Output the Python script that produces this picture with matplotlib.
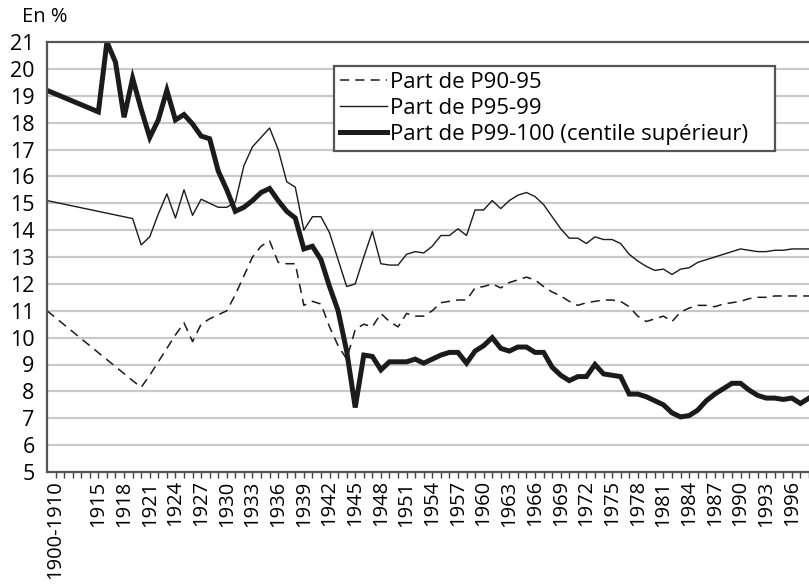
import numpy as np
import matplotlib
matplotlib.use('Agg')
import matplotlib.pyplot as plt

plt.rcParams['font.family'] = ['Open Sans', 'DejaVu Sans']

# x categories: first point is the 1900-1910 average, then yearly from 1915
years = [1909] + list(range(1915, 1999))

# P99-100 (centile superieur)
p99_100 = [19.2,
           18.4, 21.0, 20.25, 18.2, 19.65, 18.5, 17.45, 18.1, 19.2, 18.1,
           18.3, 17.95, 17.5, 17.4, 16.2, 15.5, 14.7, 14.85, 15.1, 15.4,
           15.55, 15.1, 14.7, 14.45, 13.3, 13.4, 12.9, 11.9, 11.0, 9.5,
           7.4, 9.35, 9.3, 8.8, 9.1, 9.1, 9.1, 9.2, 9.05, 9.2,
           9.35, 9.45, 9.45, 9.05, 9.5, 9.7, 10.0, 9.6, 9.5, 9.65,
           9.65, 9.45, 9.45, 8.9, 8.6, 8.4, 8.55, 8.55, 9.0, 8.65,
           8.6, 8.55, 7.9, 7.9, 7.8, 7.65, 7.5, 7.2, 7.05, 7.1,
           7.3, 7.65, 7.9, 8.1, 8.3, 8.3, 8.05, 7.85, 7.75, 7.75,
           7.7, 7.75, 7.55, 7.75]

# P95-99 (no values 1915-1918)
p95_99 = [15.1,
          None, None, None, None, 14.43, 13.45, 13.75, 14.6, 15.35, 14.45,
          15.5, 14.55, 15.15, 15.0, 14.85, 14.85, 15.05, 16.4, 17.1, 17.45,
          17.8, 17.0, 15.8, 15.6, 14.0, 14.5, 14.5, 13.9, 12.9, 11.9,
          12.0, 13.0, 13.95, 12.75, 12.7, 12.7, 13.1, 13.2, 13.15, 13.4,
          13.8, 13.8, 14.05, 13.8, 14.75, 14.75, 15.1, 14.8, 15.1, 15.3,
          15.4, 15.25, 14.95, 14.5, 14.05, 13.7, 13.7, 13.5, 13.75, 13.65,
          13.65, 13.5, 13.1, 12.85, 12.65, 12.5, 12.55, 12.35, 12.55, 12.6,
          12.8, 12.9, 13.0, 13.1, 13.2, 13.3, 13.25, 13.2, 13.2, 13.25,
          13.25, 13.3, 13.3, 13.3]

# P90-95 (no values 1915-1918)
p90_95 = [11.0,
          None, None, None, None, 8.4, 8.15, 8.6, 9.1, 9.6, 10.1,
          10.55, 9.85, 10.5, 10.7, 10.85, 11.0, 11.6, 12.3, 13.0, 13.4,
          13.6, 12.8, 12.75, 12.75, 11.2, 11.35, 11.25, 10.4, 9.7, 9.2,
          10.3, 10.5, 10.4, 10.9, 10.6, 10.4, 10.9, 10.8, 10.8, 11.0,
          11.3, 11.35, 11.4, 11.4, 11.85, 11.9, 12.0, 11.85, 12.05, 12.15,
          12.25, 12.15, 11.9, 11.7, 11.55, 11.35, 11.2, 11.3, 11.35, 11.4,
          11.4, 11.35, 11.15, 10.8, 10.6, 10.7, 10.8, 10.6, 10.95, 11.1,
          11.2, 11.2, 11.15, 11.25, 11.3, 11.35, 11.45, 11.5, 11.5, 11.55,
          11.55, 11.55, 11.55, 11.55]

labels = ['Part de P90-95', 'Part de P95-99', 'Part de P99-100 (centile supérieur)']

tick_years = list(range(1910, 1999))
label_years = [1910] + list(range(1915, 1997, 3))


def clean(xs, ys):
    # drop missing years so the line joins the known points
    pts = [(x, y) for x, y in zip(xs, ys) if y is not None]
    return [p[0] for p in pts], [p[1] for p in pts]


W, H = 809, 588
fig = plt.figure(figsize=(W / 100, H / 100), dpi=100)
ax = fig.add_axes([47 / W, 1 - 472 / H, 762 / W, 430 / H])

for v in range(6, 21):
    ax.axhline(v, color='#c9c9c9', lw=1.6, zorder=0)

col = '#1b1b1b'
x, y = clean(years, p90_95)
ax.plot(x, y, color=col, lw=1.1, dashes=(6, 4), label=labels[0])
x, y = clean(years, p95_99)
ax.plot(x, y, color=col, lw=1.0, label=labels[1])
x, y = clean(years, p99_100)
ax.plot(x, y, color=col, lw=3.6, solid_joinstyle='miter', label=labels[2])

ax.set_xlim(1909, 1998)
ax.set_ylim(5, 21)
ax.set_yticks(range(5, 22))
ax.set_xticks(tick_years)
ax.set_xticklabels(['1900-1910' if t == 1910 else (str(t) if t in label_years else '')
                    for t in tick_years], rotation=90, fontsize=14.5)
ax.tick_params(axis='x', length=4, width=1, color='#444444', pad=2)
ax.tick_params(axis='y', length=0, pad=9, labelsize=15.5)

for s in ['left', 'bottom', 'top']:
    ax.spines[s].set_color('#555555')
    ax.spines[s].set_linewidth(1.6)
ax.spines['right'].set_visible(False)

fig.text(22 / W, 1 - 17 / H, 'En %', fontsize=14.5, va='center', ha='left')

x0 = (334 - 47) / 762
y1 = (472 - 151) / 430
leg = ax.legend(loc='upper left', bbox_to_anchor=(x0, y1, 441 / 762, (151 - 66) / 430),
                mode='expand', borderaxespad=0, fancybox=False, framealpha=1,
                edgecolor='#555555', fontsize=16, handlelength=2.1, handletextpad=0.15,
                labelspacing=0.22, borderpad=0.28)
leg.get_frame().set_linewidth(1.6)

fig.savefig('out.png', dpi=100)
